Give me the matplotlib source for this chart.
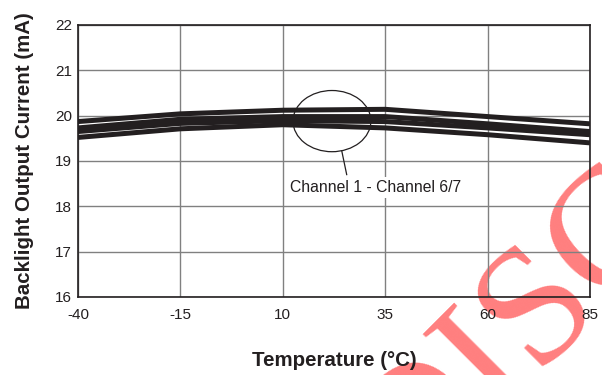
import matplotlib
matplotlib.use("Agg")
import matplotlib.pyplot as plt
from matplotlib.patches import Ellipse

plt.rcParams['font.family'] = ['Liberation Sans', 'DejaVu Sans']
plt.rcParams['axes.unicode_minus'] = False

temps = [-40, -15, 10, 35, 60, 85]
ch_a = [19.87, 20.04, 20.12, 20.14, 19.98, 19.82]
ch_b = [19.73, 19.92, 19.98, 19.98, 19.82, 19.65]
ch_c = [19.65, 19.83, 19.89, 19.87, 19.73, 19.58]
ch_d = [19.52, 19.71, 19.80, 19.73, 19.58, 19.40]
xticks = [-40, -15, 10, 35, 60, 85]
yticks = [16, 17, 18, 19, 20, 21, 22]

fig = plt.figure(figsize=(6.02, 3.75), dpi=100)
ax = fig.add_axes([78/602, 1 - 297/375, 512/602, 272/375])
ax.patch.set_visible(False)

for ys in (ch_a, ch_b, ch_c, ch_d):
    ax.plot(temps, ys, color='#231f20', lw=3.6, solid_capstyle='butt', zorder=3)

ax.set_xlim(-40, 85)
ax.set_ylim(16, 22)
ax.set_xticks(xticks)
ax.set_yticks(yticks)
ax.tick_params(length=0, labelsize=11, colors='#231f20')
ax.tick_params(axis='x', pad=8)
ax.tick_params(axis='y', pad=4.5)
ax.grid(True, color='#808080', lw=1)
ax.set_axisbelow(True)
for s in ax.spines.values():
    s.set_color('#231f20')
    s.set_linewidth(1.2)

# ellipse marking the group of channels + leader to the label
ax.add_patch(Ellipse((22.0, 19.88), 19.0, 1.35, fill=False, ec='#231f20', lw=0.9, zorder=4))
ax.plot([24.4, 25.6], [19.22, 18.7], color='#231f20', lw=0.9, zorder=4)
ax.text(32.6, 18.42, 'Channel 1 - Channel 6/7', ha='center', va='center', fontsize=11.3,
        color='#231f20', bbox=dict(fc='white', ec='none', pad=2), zorder=5)

ax.set_xlabel('Temperature (°C)', fontsize=14.8, fontweight='bold', color='#231f20', labelpad=21)
ax.set_ylabel('Backlight Output Current (mA)', fontsize=14.8, fontweight='bold', color='#231f20', labelpad=15)

# watermark
fig.text(410/602, 1 - 500/375, 'DISCONTINUED', fontsize=122, family='Liberation Serif',
         color='#ff7f7f', rotation=45, rotation_mode='anchor', ha='left', va='baseline', zorder=-1)

fig.savefig('out.png', dpi=100)
